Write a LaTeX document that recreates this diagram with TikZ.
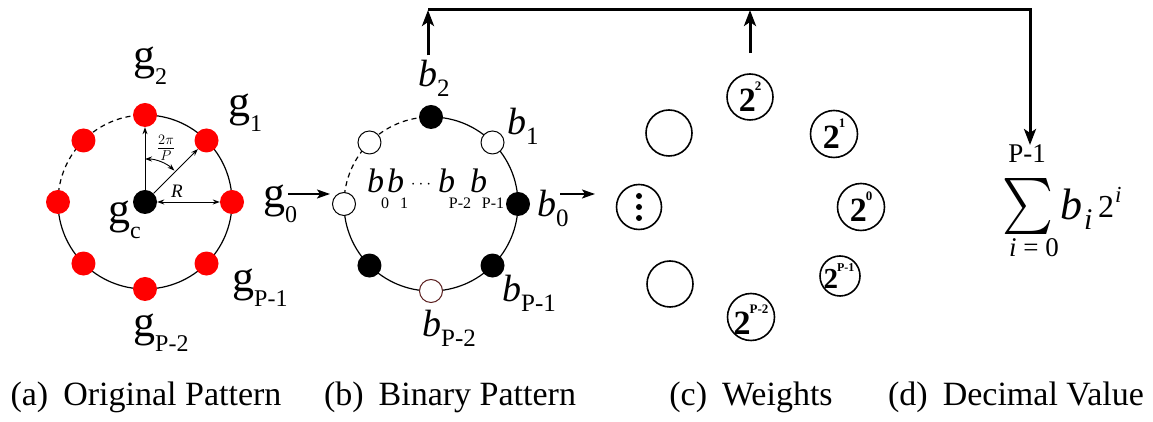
\documentclass[tikz,border=0pt]{standalone}
\usepackage{fontspec}
\setmainfont{Liberation Serif}
\usepackage{graphicx}
\usetikzlibrary{arrows.meta,calc}
\newcommand{\fs}[1]{\fontsize{#1}{#1}\selectfont}
\newcommand{\glab}[1]{{\fs{44}g}\raisebox{-15pt}{\fs{24}#1}}
\newcommand{\blab}[1]{{\fs{38}\itshape b}\raisebox{-10pt}{\fs{25}#1}}
\newcommand{\wlab}[1]{{\fs{34}\bfseries 2}\kern-1pt\raisebox{21pt}{\fs{13}\bfseries #1}}
\newcommand{\wlabsmall}[1]{{\fs{29}\bfseries 2}\kern-1pt\raisebox{17pt}{\fs{12}\bfseries #1}}
\definecolor{brownring}{RGB}{90,30,30}
\begin{document}
\begin{tikzpicture}[x=1pt,y=1pt,
  reddot/.style={circle,fill=red,minimum size=24pt,inner sep=0},
  blackdot/.style={circle,fill=black,minimum size=24pt,inner sep=0},
  opendot/.style={circle,draw=black,fill=white,line width=1pt,minimum size=23pt,inner sep=0},
  ring/.style={line width=1.2pt},
  dashring/.style={line width=1.2pt,dash pattern=on 5pt off 4pt},
  thinarrow/.style={-{Stealth[length=7pt,width=5pt]},line width=0.9pt},
  thindouble/.style={{Stealth[length=7pt,width=5pt]}-{Stealth[length=7pt,width=5pt]},line width=0.9pt},
  midarrow/.style={-{Stealth[length=13pt,width=9pt,inset=3pt]},line width=2pt},
  bigarrow/.style={-{Stealth[length=16pt,width=12pt,inset=4pt]},line width=3pt},
  wcirc/.style={circle,draw,line width=1.6pt,inner sep=0},
  lab/.style={anchor=base west,inner sep=0},
  captext/.style={anchor=base,inner sep=0,font=\fs{34}}]
\useasboundingbox (0,0) rectangle (1153,422);
% ---------- (a) original pattern ----------
\coordinate (A) at (145,220);
\draw[ring] (A)+(90:87) arc[start angle=90,end angle=-180,radius=87];
\draw[dashring] (A)+(180:87) arc[start angle=180,end angle=90,radius=87];
\foreach \a/\n in {0/0,45/1,90/2,135/3,180/4,225/5,270/6,315/7}
  \node[reddot] (a\n) at ($(A)+(\a:87)$) {};
\node[blackdot] (ac) at (A) {};
\draw[thinarrow] (ac) -- (a2);
\draw[thinarrow] (ac) -- (a1);
\draw[thindouble] (ac) -- (a0);
\draw[thindouble] ($(A)+(90:43)$) arc[start angle=90,end angle=47,radius=43];
\node[inner sep=0] (frac) at (166,274) {\fs{21}$\frac{2\pi}{P}$};
\node[inner sep=0] (rlab) at (177,231) {\fs{19}\itshape R};
\node[lab] (g2) at (133,352) {\glab{2}};
\node[lab] (g1) at (228,305) {\glab{1}};
\node[lab] (g0) at (263,214) {\glab{0}};
\node[lab] (gc) at (108,198) {\glab{c}};
\node[lab] (gp1) at (232,130) {\glab{P-1}};
\node[lab] (gp2) at (133,85) {\glab{P-2}};
% ---------- (b) binary pattern ----------
\coordinate (B) at (431,218);
\draw[ring] (B)+(90:87) arc[start angle=90,end angle=-180,radius=87];
\draw[dashring] (B)+(180:87) arc[start angle=180,end angle=90,radius=87];
\node[blackdot] (b0d) at ($(B)+(0:87)$) {};
\node[opendot]  (b1d) at ($(B)+(45:87)$) {};
\node[blackdot] (b2d) at ($(B)+(90:87)$) {};
\node[opendot]  (b3d) at ($(B)+(135:87)$) {};
\node[opendot]  (b4d) at ($(B)+(180:87)$) {};
\node[blackdot] (b5d) at ($(B)+(225:87)$) {};
\node[opendot,draw=brownring] (b6d) at ($(B)+(270:87)$) {};
\node[blackdot] (b7d) at ($(B)+(315:87)$) {};
\node[lab] (b2) at (418,335) {\blab{2}};
\node[lab] (b1) at (507,287) {\blab{1}};
\node[lab] (b0) at (537,205) {\blab{0}};
\node[lab] (bp1) at (502,120) {\blab{P-1}};
\node[lab] (bp2) at (422,85) {\blab{P-2}};
% inner sequence
\node[lab] (s0) at (367,229) {\fs{34}\itshape b};
\node[lab] (s1) at (387,229) {\fs{34}\itshape b};
\node[inner sep=0] (sd) at (421,237) {\fs{19}$\cdots$};
\node[lab] (s2) at (438,229) {\fs{34}\itshape b};
\node[lab] (s3) at (470,229) {\fs{34}\itshape b};
\node[anchor=base,inner sep=0] (t0) at (385,213) {\fs{16}0};
\node[anchor=base,inner sep=0] (t1) at (404,213) {\fs{16}1};
\node[anchor=base,inner sep=0] (t2) at (460,213) {\fs{16}P-2};
\node[anchor=base,inner sep=0] (t3) at (493,213) {\fs{16}P-1};
% arrows in/out of (b)
\coordinate (ain0) at (288,228);
\coordinate (ain1) at (330,228);
\draw[midarrow] (ain0) -- (ain1);
\coordinate (aout0) at (560,228);
\coordinate (aout1) at (595,228);
\draw[midarrow] (aout0) -- (aout1);
% ---------- (c) weights ----------
\node[wcirc,minimum size=46pt] (w2) at (750,325) {};
\node[wcirc,minimum size=47pt] (w1) at (834,288) {};
\node[wcirc,minimum size=47pt] (w0) at (861,215) {};
\node[wcirc,minimum size=40pt] (wp1) at (840,146) {};
\node[wcirc,minimum size=47pt] (wp2) at (751,105) {};
\node[wcirc,minimum size=46pt] (we1) at (669,289) {};
\node[wcirc,minimum size=45pt] (wd) at (639,215) {};
\node[wcirc,minimum size=46pt] (we2) at (670,138) {};
\node[inner sep=0] at (w2) {\wlab{2}};
\node[inner sep=0] at (w1) {\wlab{1}};
\node[inner sep=0] at (w0) {\wlab{0}};
\node[inner sep=0] at ([xshift=-1pt]wp1.center) {\wlabsmall{P-1}};
\node[inner sep=0] at ([yshift=-3pt]wp2.center) {\wlab{P-2}};
\foreach \dy in {-11,0,11} \fill ($(wd)+(0,\dy)$) circle[radius=3pt];
% ---------- (d) decimal value ----------
\node[inner sep=0] (sig) at (1028,215) {\resizebox*{51pt}{56pt}{$\sum$}};
\node[inner sep=0] (up) at (1027,268) {\fs{27}P-1};
\node[inner sep=0] (lo) at (1034,174) {\fs{27}{\itshape i} = 0};
\node[lab] (sb) at (1060,202) {\fs{44}\itshape b};
\node[lab] (si) at (1084,192) {\fs{30}\itshape i};
\node[lab] (s2n) at (1098,204) {\fs{32}2};
\node[lab] (sii) at (1115,219) {\fs{23}\itshape i};
% ---------- top connector ----------
\coordinate (T1) at (428,412);
\coordinate (T2) at (750,412);
\coordinate (T3) at (1030,412);
\coordinate (D) at (1030,277);
\draw[bigarrow] ([yshift=5pt]b2.north -| T1) -- (T1);
\draw[bigarrow] ([yshift=20pt]w2.north) -- (T2);
\draw[bigarrow] (T1) -- (T3) -- (D);
% ---------- captions ----------
\node[captext] (ca) at (146,16) {(a)\hspace{15pt}Original Pattern};
\node[captext] (cb) at (450,16) {(b)\hspace{15pt}Binary Pattern};
\node[captext] (cc) at (751,16) {(c)\hspace{15pt}Weights};
\node[captext] (cd) at (1016,16) {(d)\hspace{15pt}Decimal Value};
\end{tikzpicture}
\end{document}
